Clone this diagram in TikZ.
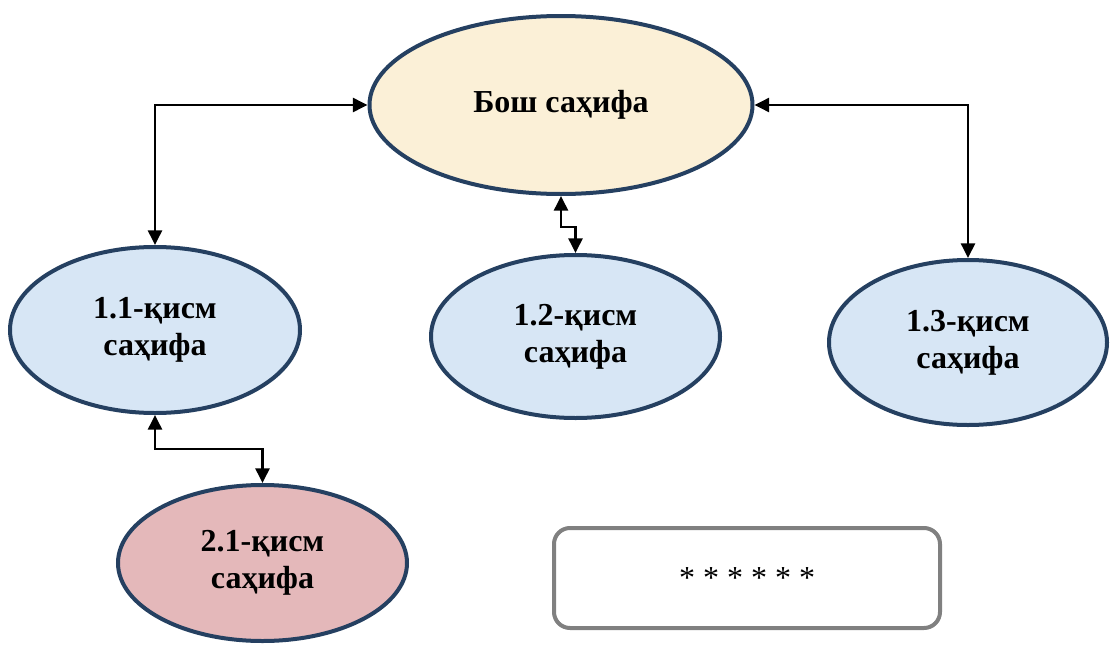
\documentclass[tikz,border=0pt]{standalone}
\usepackage{fontspec}
\setmainfont{Liberation Serif}
\usetikzlibrary{shapes.geometric,arrows.meta}
\definecolor{navy}{RGB}{37,64,97}
\definecolor{cream}{RGB}{251,240,215}
\definecolor{lblue}{RGB}{215,230,245}
\definecolor{lpink}{RGB}{228,184,186}
\definecolor{boxgray}{RGB}{128,128,128}
\tikzset{
  page/.style={ellipse, draw=navy, line width=3pt, inner sep=0pt, align=center,
    font=\fontsize{24}{28}\selectfont\bfseries},
  conn/.style={line width=1.9pt, {Triangle[length=11pt,width=10.5pt]}-{Triangle[length=11pt,width=10.5pt]}},
  starbox/.style={draw=boxgray, line width=3pt, rounded corners=12pt, fill=white,
    minimum width=289.5pt, minimum height=75pt, inner sep=0pt,
    font=\fontsize{24}{28}\selectfont}
}
\begin{document}
\begin{tikzpicture}[x=0.75pt,y=-0.75pt]
\useasboundingbox (0,0) rectangle (1110,646);
\node[page, fill=cream, minimum width=287.25pt, minimum height=133.5pt] (top) at (561,105) {Бош саҳифа};
\node[page, fill=lblue, minimum width=217.5pt, minimum height=124.5pt] (n11) at (155,330) {1.1-қисм\\саҳифа};
\node[page, fill=lblue, minimum width=216.75pt, minimum height=122.25pt] (n12) at (575.5,336.5) {1.2-қисм\\саҳифа};
\node[page, fill=lblue, minimum width=208.5pt, minimum height=123.75pt] (n13) at (968,342.5) {1.3-қисм\\саҳифа};
\node[page, fill=lpink, minimum width=216.75pt, minimum height=117pt] (n21) at (262.5,563) {2.1-қисм\\саҳифа};
\node[starbox] (stars) at (747,578) {* * * * * *};
\coordinate (m1) at (561,227);
\coordinate (m2) at (155,449);
\draw[conn] (top.west) -| (n11.north);
\draw[conn] (top.east) -| (n13.north);
\draw[conn] (top.south) -- (m1) -| (n12.north);
\draw[conn] (n11.south) -- (m2) -| (n21.north);
\end{tikzpicture}
\end{document}
